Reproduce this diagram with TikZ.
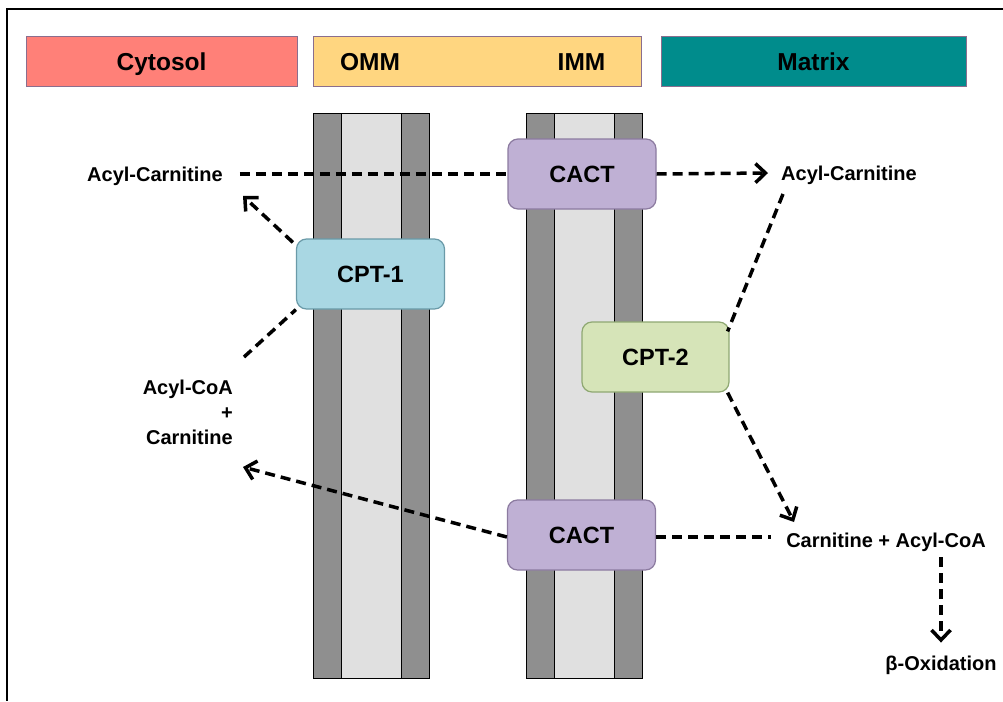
\documentclass[tikz,border=0pt]{standalone}
\usepackage{fontspec}
\setmainfont{Liberation Sans}
\usetikzlibrary{arrows.meta}
\definecolor{cytfill}{HTML}{FF8078}
\definecolor{omfill}{HTML}{FFD680}
\definecolor{matfill}{HTML}{008C8C}
\definecolor{hdrline}{HTML}{8A6E8E}
\definecolor{mdark}{HTML}{8F8F8F}
\definecolor{mlight}{HTML}{E0E0E0}
\definecolor{cptone}{HTML}{A9D7E3}
\definecolor{cptoneline}{HTML}{6A9AA8}
\definecolor{cactfill}{HTML}{BFB0D4}
\definecolor{cactline}{HTML}{8C7BA0}
\definecolor{cpttwo}{HTML}{D6E4B8}
\definecolor{cpttwoline}{HTML}{8FA872}
\begin{document}
\begin{tikzpicture}[x=1pt,y=-1pt,
  hdr/.style={draw=hdrline, line width=1pt, minimum height=49pt, inner sep=0pt,
    text height=17.5pt, text depth=0pt,
    font=\fontsize{24.5}{28}\selectfont\bfseries},
  enz/.style={draw=#1line, line width=1.2pt, rounded corners=10pt, minimum width=148pt,
    minimum height=70pt, inner sep=0pt, text height=17pt, text depth=0pt,
    font=\fontsize{23.5}{28}\selectfont\bfseries},
  lbl/.style={inner sep=0pt, font=\fontsize{20}{25}\selectfont\bfseries},
  one/.style={text height=14.5pt, text depth=0pt},
  membr/.style={draw=black, line width=0.8pt},
  dl/.style={line width=3.5pt, dash pattern=on 10pt off 6pt},
  dla/.style={dl, -{Straight Barb[length=10pt,width=19pt]}}]
\useasboundingbox (0,0) rectangle (1003,701);
\fill[white] (0,0) rectangle (1003,701);
% frame
\draw[line width=2.5pt] (1003,9) -- (7,9) -- (7,701);
% headers
\node[hdr, fill=cytfill, minimum width=271pt] (hcyt) at (161.5,61.5) {Cytosol};
\node[hdr, fill=omfill, minimum width=327.5pt] (hom) at (477.25,61.5) {};
\node[lbl, one, text height=17.5pt, font=\fontsize{24.5}{28}\selectfont\bfseries] (tomm) at (370,62) {OMM};
\node[lbl, one, text height=17.5pt, font=\fontsize{24.5}{28}\selectfont\bfseries] (timm) at (581.5,62) {IMM};
\node[hdr, fill=matfill, minimum width=305pt] (hmat) at (813.5,61.5) {Matrix};
% membranes
\foreach \mx in {313,526}{
  \draw[membr, fill=mdark] (\mx,113) rectangle ++(116,565);
  \draw[membr, fill=mlight] (\mx+28,113) rectangle ++(60,565);
}
% enzymes
\node[enz=cptone, fill=cptone] (cpt1) at (370.5,274) {CPT-1};
\node[enz=cact, fill=cactfill] (cactT) at (582,174) {CACT};
\node[enz=cpttwo, fill=cpttwo, minimum width=147pt] (cpt2) at (655.5,357) {CPT-2};
\node[enz=cact, fill=cactfill] (cactB) at (581.5,535) {CACT};
% labels
\node[lbl, one] (accL) at (155,174) {Acyl-Carnitine};
\node[lbl, one] (accR) at (849,173) {Acyl-Carnitine};
\node[lbl, align=right, anchor=east] (coaL) at (233,412) {Acyl-CoA\\+\\Carnitine};
\node[lbl, one] (cpa) at (886,540) {Carnitine + Acyl-CoA};
\node[lbl, one] (box) at (941,663) {β-Oxidation};
% free ends
\coordinate (t3) at (243,196);
\coordinate (s4) at (244,357);
\coordinate (s5) at (783,194);
\coordinate (t6) at (794,522);
\coordinate (t7) at (243,467);
\coordinate (s9) at (941,557);
% connectors
\draw[dl] ([xshift=17pt]accL.east) -- (cactT.west);
\draw[dla] (cactT.east) -- ([xshift=-13pt]accR.west);
\draw[dla] ([xshift=-3pt,yshift=-4pt]cpt1.north west) -- (t3);
\draw[dl] (s4) -- (cpt1.south west);
\draw[dl] (s5) -- ([xshift=-2pt,yshift=-10pt]cpt2.north east);
\draw[dla] ([xshift=-2pt]cpt2.south east) -- (t6);
\draw[dla] ([yshift=-2pt]cactB.west) -- (t7);
\draw[dl] ([yshift=-2pt]cactB.east) -- ([xshift=-15pt,yshift=-2pt]cactB.east -| cpa.west);
\draw[dla] (s9) -- ([yshift=13pt]box.north);
\end{tikzpicture}
\end{document}
